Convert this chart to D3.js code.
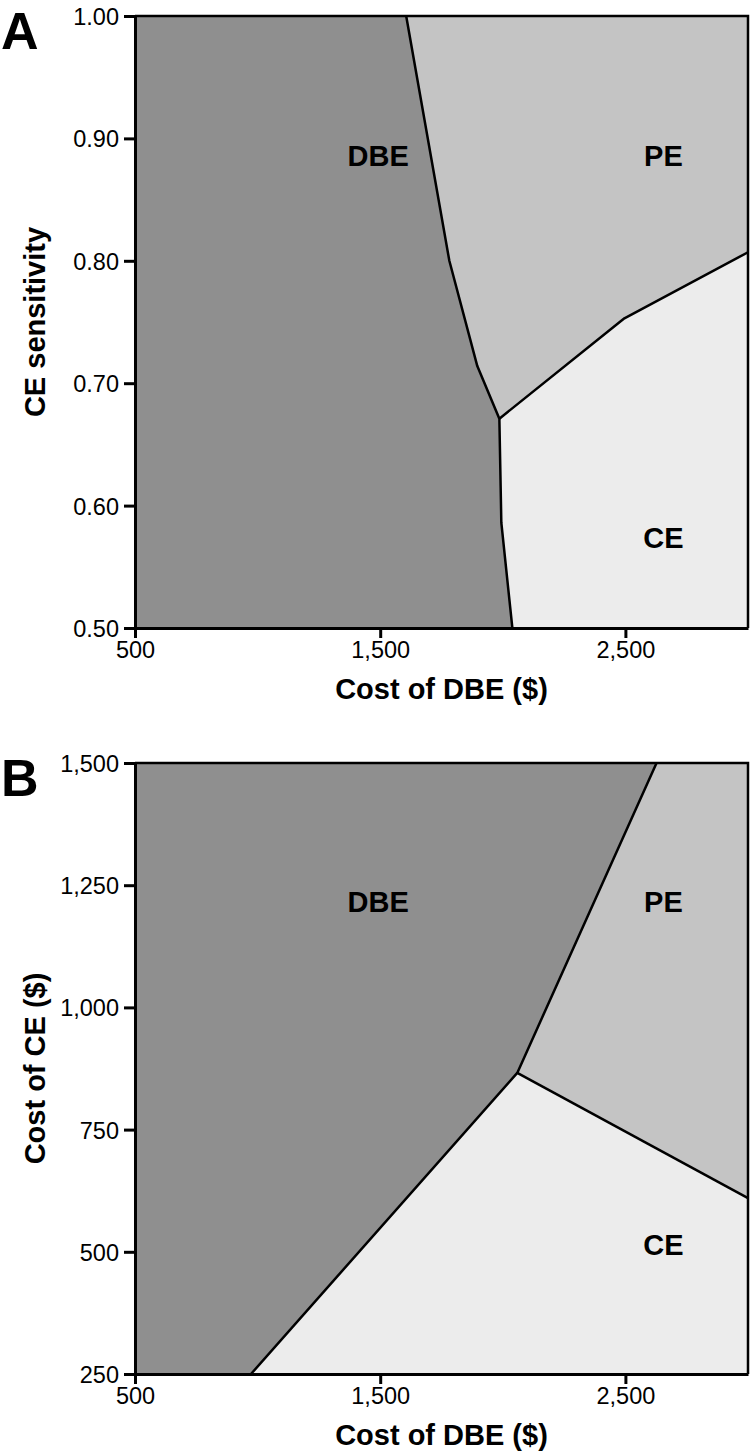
<!DOCTYPE html>
<html><head><meta charset="utf-8">
<script src="https://cdn.jsdelivr.net/npm/d3@7"></script>
<style>body{margin:0;background:#fff}svg{display:block}text{font-family:"Liberation Sans",Arial,Helvetica,sans-serif}</style>
</head><body>
<svg id="chart" width="750" height="1455"></svg>
<script>
// ---- data ----
const xTicks = [500, 1500, 2500];
const xDomain = [500, 3000];

// Panel A: CE sensitivity vs cost of DBE
const aYTicks = [0.50, 0.60, 0.70, 0.80, 0.90, 1.00];
const aYDomain = [0.5, 1.0];
const aBoundaryMain = [[1606,1.00],[1782,0.80],[1896,0.714],[1986,0.671],[1994,0.586],[2039,0.50]];
const aBoundaryPECE = [[1986,0.671],[2496,0.753],[3000,0.807]];
const aRegionDBE = [[500,0.5],[500,1.0],[1606,1.00],[1782,0.80],[1896,0.714],[1986,0.671],[1994,0.586],[2039,0.50]];
const aRegionPE = [[1606,1.00],[3000,1.00],[3000,0.807],[2496,0.753],[1986,0.671],[1896,0.714],[1782,0.80]];
const aRegionCE = [[1986,0.671],[2496,0.753],[3000,0.807],[3000,0.50],[2039,0.50],[1994,0.586]];
const aLabels = [["DBE",1492,0.886],["PE",2655,0.886],["CE",2655,0.574]];

// Panel B: cost of CE vs cost of DBE
const bYTicks = [250, 500, 750, 1000, 1250, 1500];
const bYDomain = [250, 1500];
const bBoundaryMain = [[2627,1500],[2059,866],[973,250]];
const bBoundaryPECE = [[2059,866],[3000,610]];
const bRegionDBE = [[500,250],[500,1500],[2627,1500],[2059,866],[973,250]];
const bRegionPE = [[2627,1500],[3000,1500],[3000,610],[2059,866]];
const bRegionCE = [[2059,866],[3000,610],[3000,250],[973,250]];
const bLabels = [["DBE",1492,1216],["PE",2655,1216],["CE",2655,514]];

const colors = {DBE:"#8f8f8f", PE:"#c4c4c4", CE:"#ececec"};

const svg = d3.select("#chart");
const L = 135, R = 748;

function panel(cfg){
  const x = d3.scaleLinear().domain(xDomain).range([L, R]);
  const y = d3.scaleLinear().domain(cfg.yDomain).range([cfg.bottom, cfg.top]);
  const g = svg.append("g");
  const line = d3.line().x(d=>x(d[0])).y(d=>y(d[1]));
  const area = d3.line().x(d=>x(d[0])).y(d=>y(d[1])).curve(d3.curveLinearClosed);
  [["DBE",cfg.dbe],["PE",cfg.pe],["CE",cfg.ce]].forEach(([k,pts])=>{
    g.append("path").attr("d", area(pts)).attr("fill", colors[k]).attr("stroke", colors[k]).attr("stroke-width",0.5);
  });
  [cfg.b1, cfg.b2].forEach(pts=>{
    g.append("path").attr("d", line(pts)).attr("fill","none").attr("stroke","#000").attr("stroke-width",2.5).attr("stroke-linejoin","round");
  });
  g.append("path").attr("d", `M${L},${cfg.top}H${R}V${cfg.bottom}`).attr("fill","none").attr("stroke","#000").attr("stroke-width",2.5);
  const xa = g.append("g").attr("transform",`translate(0,${cfg.bottom})`)
    .call(d3.axisBottom(x).tickValues(xTicks).tickFormat(d3.format(",")).tickSize(10).tickSizeOuter(0));
  const ya = g.append("g").attr("transform",`translate(${L},0)`)
    .call(d3.axisLeft(y).tickValues(cfg.yTicks).tickFormat(cfg.yFmt).tickSize(11).tickSizeOuter(0));
  [xa, ya].forEach(a=>{
    a.select(".domain").attr("stroke","#000").attr("stroke-width",3);
    a.selectAll(".tick line").attr("stroke","#000").attr("stroke-width",3);
    a.selectAll(".tick text").attr("fill","#000").attr("font-size",23.5).style("font-family","'Liberation Sans',Arial,sans-serif");
  });
  xa.selectAll(".tick text").attr("dy","0.95em").attr("y",8);
  ya.selectAll(".tick text").attr("x",-16).attr("dy","0.36em");
  cfg.labels.forEach(([t,vx,vy])=>{
    g.append("text").attr("x",x(vx)).attr("y",y(vy)).attr("dy","0.36em")
      .attr("text-anchor","middle").attr("font-weight","bold").attr("font-size",29).text(t);
  });
  g.append("text").attr("x",(L+R)/2).attr("y",cfg.bottom+71).attr("text-anchor","middle")
    .attr("font-weight","bold").attr("font-size",29).text("Cost of DBE ($)");
  g.append("text").attr("transform",`translate(45,${(cfg.top+cfg.bottom)/2}) rotate(-90)`).attr("text-anchor","middle")
    .attr("font-weight","bold").attr("font-size",29).text(cfg.yTitle);
  g.append("text").attr("x",1).attr("y",cfg.top+33).attr("font-weight","bold").attr("font-size",52).text(cfg.letter);
}

panel({top:16,bottom:628,yDomain:aYDomain,yTicks:aYTicks,yFmt:d3.format(".2f"),
  dbe:aRegionDBE,pe:aRegionPE,ce:aRegionCE,b1:aBoundaryMain,b2:aBoundaryPECE,labels:aLabels,
  yTitle:"CE sensitivity",letter:"A"});
panel({top:763,bottom:1374,yDomain:bYDomain,yTicks:bYTicks,yFmt:d3.format(","),
  dbe:bRegionDBE,pe:bRegionPE,ce:bRegionCE,b1:bBoundaryMain,b2:bBoundaryPECE,labels:bLabels,
  yTitle:"Cost of CE ($)",letter:"B"});
</script>
</body></html>
